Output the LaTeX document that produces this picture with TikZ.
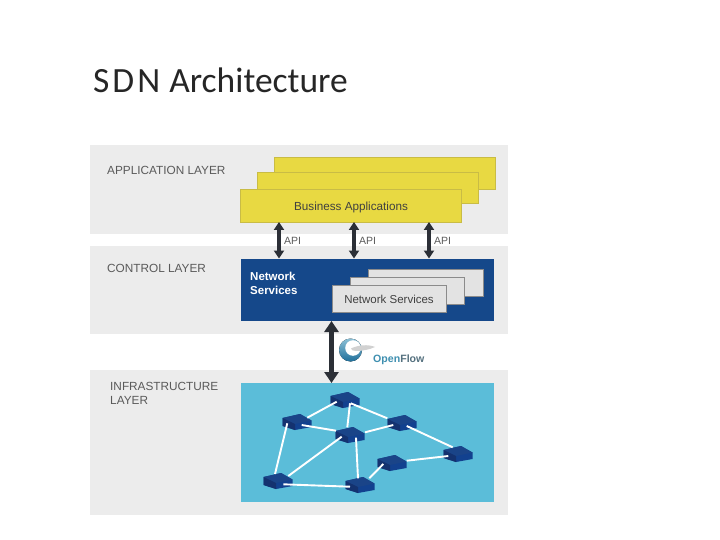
\documentclass[tikz,border=0pt]{standalone}
\usepackage{fontspec}
\setmainfont{Liberation Sans}
\newfontfamily\titlefont{Carlito}
\usetikzlibrary{arrows.meta}
\definecolor{layergray}{HTML}{ECECEC}
\definecolor{bizyellow}{HTML}{E8D942}
\definecolor{bizedge}{HTML}{C9BC45}
\definecolor{netblue}{HTML}{15488A}
\definecolor{netgray}{HTML}{E3E3E3}
\definecolor{infrateal}{HTML}{5BBDD9}
\definecolor{swfront}{HTML}{12418F}
\definecolor{swtop}{HTML}{1A4488}
\definecolor{swdark}{HTML}{14326F}
\definecolor{labelgray}{HTML}{5A5A5A}
\definecolor{arrowdark}{HTML}{2B2F36}
\definecolor{ofopen}{HTML}{3E8FB0}
\definecolor{offlow}{HTML}{55717F}
\definecolor{oflight}{HTML}{8CC0D6}
\definecolor{ofdark}{HTML}{1F6F9A}
\tikzset{
  x=1pt,y=-1pt,
  box/.style={anchor=north west,inner sep=0pt,outer sep=0pt},
  layerbox/.style={box,fill=layergray},
  bizbox/.style={box,fill=bizyellow,draw=bizedge,line width=0.8pt},
  netbox/.style={box,fill=netgray,draw=labelgray!70,line width=0.7pt},
  layerlabel/.style={anchor=base west,inner sep=0pt,text=labelgray,font=\fontsize{11.8}{14}\selectfont,align=left},
  apilabel/.style={anchor=base west,inner sep=0pt,text=labelgray,font=\fontsize{10.5}{12}\selectfont},
  link/.style={draw=white,line width=1.9pt},
  apiarrow/.style={draw=arrowdark,line width=3.4pt,{Triangle[width=10pt,length=8pt]}-{Triangle[width=10pt,length=8pt]}},
  bigarrow/.style={draw=arrowdark,line width=4.6pt,{Triangle[width=14pt,length=11pt]}-{Triangle[width=14pt,length=11pt]}},
  swnode/.style={inner sep=0pt,minimum size=2pt},
  switchbody/.pic={
    \fill[swfront] (-14.5,-4) -- (3,-8) -- (14.5,-1.5) -- (14.5,5) -- (-2,8) -- (-14.5,4) -- cycle;
    \fill[swtop] (-14.5,-4) -- (3,-8) -- (14.5,-1.5) -- (-2,2) -- cycle;
    \fill[swdark] (-14.5,-4) -- (-2,2) -- (-2,8) -- (-14.5,4) -- cycle;
  }
}
\begin{document}
\begin{tikzpicture}
\useasboundingbox (0,0) rectangle (720,540);
\fill[white] (0,0) rectangle (720,540);
\node[anchor=base west,inner sep=0pt,font=\titlefont\fontsize{35.5}{40}\selectfont,text=black!85] (title) at (93,93) {S\kern3pt D\kern3pt N\kern1pt\ Architecture};
% layers
\node[layerbox,minimum width=418pt,minimum height=89pt] (applayer) at (90,145) {};
\node[layerbox,minimum width=418pt,minimum height=88pt] (ctllayer) at (90,246) {};
\node[layerbox,minimum width=418pt,minimum height=145pt] (inflayer) at (90,370) {};
\node[layerlabel] (applabel) at (107,174.5) {APPLICATION LAYER};
\node[layerlabel] (ctllabel) at (107,272) {CONTROL LAYER};
\node[layerlabel,anchor=north west] (inflabel) at (110,382.5) {INFRASTRUCTURE\\LAYER};
% business apps
\node[bizbox,minimum width=221pt,minimum height=32pt] (biz3) at (274,157) {};
\node[bizbox,minimum width=221pt,minimum height=31pt] (biz2) at (257,172) {};
\node[bizbox,minimum width=221pt,minimum height=33pt,text=black!75,font=\fontsize{11.7}{14}\selectfont,text height=10pt,text depth=0pt] (biz1) at (240.5,189) {Business Applications};
% network services
\node[box,fill=netblue,minimum width=253pt,minimum height=62.5pt] (net) at (241,258.5) {};
\node[anchor=north west,inner sep=0pt,text=white,font=\bfseries\fontsize{11.5}{14.5}\selectfont,align=left] (netlabel) at (250,271.5) {Network\\Services};
\node[netbox,minimum width=114.5pt,minimum height=27pt] (svc3) at (368.5,269) {};
\node[netbox,minimum width=114pt,minimum height=27pt] (svc2) at (350,277) {};
\node[netbox,minimum width=114pt,minimum height=26.5pt,text=black!75,font=\fontsize{11.5}{14}\selectfont,text height=10pt,text depth=0pt] (svc1) at (332,285.5) {Network Services};
% infrastructure
\node[box,fill=infrateal,minimum width=253pt,minimum height=119pt] (infra) at (241,383) {};
% switches
\foreach \n/\px/\py in {s1/345/400,s2/297/422,s3/350/435,s4/402/423,s5/458/454,s6/392/463,s7/360/485,s8/278/481}{
  \node[swnode] (\n) at (\px,\py) {};
  \pic at (\px,\py) {switchbody};
}
\foreach \a/\ax/\ay/\b/\bx/\by in {
  s1/-8.3/1.7/s2/10.3/-4.3,
  s1/5/3.3/s3/-2.7/-7.7,
  s1/5.7/3.3/s4/-14.7/-4.7,
  s2/4.7/3/s3/-14/-4.3,
  s3/15/-2.7/s4/-8.7/2,
  s4/4.7/3/s5/-5.3/-6.7,
  s2/-9.7/1.3/s8/-3/-7,
  s3/-8.3/1.7/s8/10.3/-5,
  s3/6/2.7/s7/-2/-6.7,
  s8/5.3/3.3/s7/-10/1.7,
  s7/9.3/-6.7/s6/-8.7/1,
  s6/14.7/-2.3/s5/-9.7/2}{
  \draw[link] ([shift={(\ax,\ay)}]\a.center) -- ([shift={(\bx,\by)}]\b.center);
}
% arrows
\coordinate (a1) at (279,240);
\coordinate (a2) at (354,240);
\coordinate (a3) at (429,240);
\coordinate (a4) at (331.5,350);
\foreach \c in {a1,a2,a3}{
  \draw[apiarrow] (\c |- biz1.south) -- (\c |- net.north);
}
\node[apilabel] (api1) at (284,244.5) {API};
\node[apilabel] (api2) at (359,244.5) {API};
\node[apilabel] (api3) at (434,244.5) {API};
\draw[bigarrow] (a4 |- net.south) -- (a4 |- infra.north);
% OpenFlow logo
\fill[top color=oflight,bottom color=ofdark] (350.5,350) circle[radius=11.5];
\fill[white] (353,348) circle[radius=7.8];
\fill[black!18] (351,348.5) .. controls (358,345) and (368,344) .. (375,347) .. controls (370,349.5) and (362,351) .. (356,351) .. controls (353,351) and (351,350) .. (351,348.5) -- cycle;
\node[anchor=base west,inner sep=0pt,font=\bfseries\fontsize{10.6}{12}\selectfont] (oftext) at (373,362) {\textcolor{ofopen}{Open}\textcolor{offlow}{Flow}};
\end{tikzpicture}
\end{document}
